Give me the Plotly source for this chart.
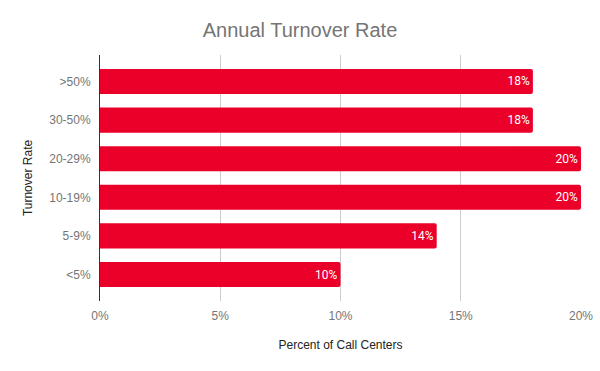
import plotly.graph_objects as go

categories = ["<5%", "5-9%", "10-19%", "20-29%", "30-50%", ">50%"]
values = [10, 14, 20, 20, 18, 18]
text_labels = [f"{v}%" for v in values]
x_tickvals = [0, 5, 10, 15, 20]
x_ticktext = ["0%", "5%", "10%", "15%", "20%"]

fig = go.Figure(go.Bar(
    y=categories, x=values, orientation="h",
    marker=dict(color="#EA0029", cornerradius=2, line=dict(width=0)),
    text=text_labels, textposition="inside", insidetextanchor="end",
    textfont=dict(color="white", size=12, family="Roboto, Liberation Sans, Arial"),
    cliponaxis=False, width=0.65,
))

fig.update_layout(
    width=600, height=371,
    margin=dict(l=100, r=19, t=55, b=70, autoexpand=False),
    paper_bgcolor="white", plot_bgcolor="white",
    font=dict(family="Liberation Sans, Arial", size=12, color="#757575"),
    title=dict(text="Annual Turnover Rate", x=0.5, xanchor="center", y=0.92, yanchor="middle",
               automargin=False, font=dict(size=20, color="#757575")),
    showlegend=False,
    xaxis=dict(range=[0, 20], tickvals=x_tickvals, ticktext=x_ticktext, automargin=False,
               showgrid=True, gridcolor="#CCCCCC", gridwidth=1, zeroline=False,
               showline=False, ticks="", ticklabelstandoff=6,
               title=dict(text="Percent of Call Centers", standoff=18,
                          font=dict(size=12, color="#222222"))),
    yaxis=dict(categoryorder="array", categoryarray=categories, automargin=False,
               range=[-0.686, 5.686], showgrid=False, zeroline=False,
               showline=True, linecolor="#333333", linewidth=1, ticks="",
               ticklabelstandoff=6,
               title=dict(text="Turnover Rate", standoff=14,
                          font=dict(size=12, color="#222222"))),
)

fig.write_html("out.html", config={"displayModeBar": False},
               post_script="document.body.style.margin='0';document.body.style.padding='0';")
